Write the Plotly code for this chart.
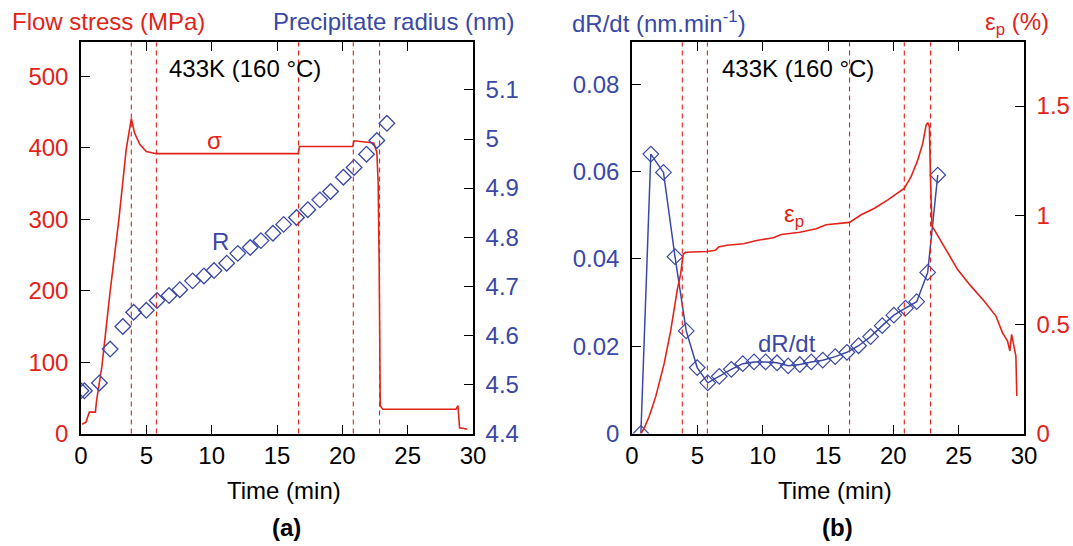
import plotly.graph_objects as go

# ---------------- data ----------------
# Panel (a): flow stress (MPa) vs time (min)
sigma_t = [0.08, 0.38, 0.64, 1.1, 1.2, 1.6, 2.23, 2.9, 3.46, 3.85, 4.1, 4.5, 5.0, 5.77, 10.0,
           16.62, 16.72, 20.8, 20.9, 21.5, 22.4, 22.64, 22.74, 22.82, 22.9, 23.1, 28.7, 28.85,
           28.97, 29.3, 29.56]
sigma = [13, 16, 30, 30, 47, 94, 199, 300, 398, 441, 421, 405, 395, 392, 392,
         392, 402, 402, 410, 409, 407, 394, 352, 235, 39, 34, 34, 39,
         8, 7, 6]

# Panel (a): precipitate radius (nm)
R_t = [0.0, 0.26, 1.41, 2.23, 3.2, 4.03, 5.0, 5.82, 6.74, 7.56, 8.54, 9.41, 10.18, 11.15,
       12.0, 12.95, 13.77, 14.69, 15.51, 16.49, 17.36, 18.28, 19.1, 20.08, 20.9, 21.85,
       22.64, 23.41]
R = [4.487, 4.487, 4.503, 4.572, 4.618, 4.647, 4.651, 4.671, 4.681, 4.693, 4.711, 4.721,
     4.732, 4.747, 4.767, 4.779, 4.793, 4.808, 4.826, 4.840, 4.856, 4.876, 4.893, 4.922,
     4.942, 4.969, 4.997, 5.032]

# Panel (b): dR/dt (nm/min)
dR_t = [0.68, 1.44, 2.41, 3.29, 4.15, 4.99, 5.8, 6.68, 7.6, 8.48, 9.34, 10.23, 11.1, 11.95,
        12.84, 13.72, 14.6, 15.55, 16.45, 17.34, 18.26, 19.15, 20.04, 20.93, 21.79, 22.63, 23.4]
dR = [0.0, 0.064, 0.0598, 0.0405, 0.0235, 0.0151, 0.0116, 0.0131, 0.0147, 0.0160, 0.0164,
      0.0164, 0.0162, 0.0155, 0.0158, 0.0164, 0.0168, 0.0176, 0.0186, 0.0201, 0.0222,
      0.0247, 0.0271, 0.0287, 0.0302, 0.0369, 0.0592]

# Panel (b): plastic strain eps_p (%)
eps_t = [0.68, 0.94, 1.32, 1.82, 2.46, 2.96, 3.47, 3.72, 3.92, 4.1, 5.75, 6.38, 6.63, 7.27,
         8.53, 9.54, 10.81, 11.44, 12.84, 14.1, 14.86, 15.76, 16.65, 17.54, 18.56, 19.58,
         20.34, 20.85, 21.36, 21.87, 22.25, 22.51, 22.63, 22.76, 22.84, 22.96, 23.14, 24.03,
         24.92, 25.94, 26.96, 27.85, 28.36, 28.74, 28.92, 29.05, 29.2, 29.38, 29.45]
eps = [0.0, 0.026, 0.079, 0.17, 0.32, 0.47, 0.66, 0.73, 0.82, 0.83, 0.834, 0.839, 0.854, 0.862,
       0.869, 0.884, 0.897, 0.912, 0.922, 0.938, 0.956, 0.961, 0.967, 1.002, 1.032, 1.07,
       1.10, 1.124, 1.177, 1.253, 1.329, 1.413, 1.424, 1.405, 1.177, 0.949, 0.933, 0.842,
       0.751, 0.675, 0.606, 0.538, 0.461, 0.423, 0.378, 0.454, 0.40, 0.355, 0.172]

# Transition times marked by dashed lines (min)
transition_times = [3.85, 5.77, 16.65, 20.84, 22.85]

x_ticks = [0, 5, 10, 15, 20, 25, 30]
sigma_ticks = [0, 100, 200, 300, 400, 500]
R_ticks = [4.4, 4.5, 4.6, 4.7, 4.8, 4.9, 5.0, 5.1]
R_ticklabels = ["4.4", "4.5", "4.6", "4.7", "4.8", "4.9", "5", "5.1"]
dR_ticks = [0, 0.02, 0.04, 0.06, 0.08]
dR_ticklabels = ["0", "0.02", "0.04", "0.06", "0.08"]
eps_ticks = [0, 0.5, 1, 1.5]
eps_ticklabels = ["0", "0.5", "1", "1.5"]

# ---------------- style ----------------
RED = "#e2231a"
BLUE = "#3a48a6"
FONT = "Liberation Sans"
FS = 24

W, H = 1073, 546
def px(x):
    return x / W
def py(y):
    return (H - y) / H

dom_y = [py(433.5), py(42.3)]
dom_a = [px(81), px(473)]
dom_b = [px(632), px(1024)]

fig = go.Figure()

fig.add_trace(go.Scatter(x=sigma_t, y=sigma, mode="lines", line=dict(color=RED, width=1.6),
                         xaxis="x", yaxis="y", showlegend=False))
fig.add_trace(go.Scatter(x=R_t, y=R, mode="markers",
                         marker=dict(symbol="diamond-open", size=12, color=BLUE,
                                     line=dict(color=BLUE, width=1.3)),
                         xaxis="x", yaxis="y2", showlegend=False))
fig.add_trace(go.Scatter(x=eps_t, y=eps, mode="lines", line=dict(color=RED, width=1.6),
                         xaxis="x2", yaxis="y4", showlegend=False))
fig.add_trace(go.Scatter(x=dR_t, y=dR, mode="lines+markers",
                         line=dict(color=BLUE, width=1.5),
                         marker=dict(symbol="diamond-open", size=12, color=BLUE,
                                     line=dict(color=BLUE, width=1.2)),
                         xaxis="x2", yaxis="y3", showlegend=False))

axis_common = dict(showline=True, linecolor="black", linewidth=1.5, ticks="inside",
                   ticklen=9, tickwidth=1.3, tickcolor="black", showgrid=False,
                   zeroline=False, automargin=False, ticklabelstandoff=6)

xcommon = dict(axis_common, range=[0, 30], tickvals=x_ticks, mirror="ticks",
               ticklabelstandoff=0,
               tickfont=dict(family=FONT, size=FS, color="black"))

fig.update_layout(
    width=W, height=H,
    margin=dict(l=0, r=0, t=0, b=0),
    paper_bgcolor="white", plot_bgcolor="white",
    xaxis=dict(xcommon, domain=dom_a, anchor="y"),
    xaxis2=dict(xcommon, domain=dom_b, anchor="y3"),
    yaxis=dict(axis_common, domain=dom_y, range=[0, 548], tickvals=sigma_ticks,
               anchor="x", tickfont=dict(family=FONT, size=FS, color=RED)),
    yaxis2=dict(axis_common, range=[4.4, 5.197], tickvals=R_ticks, ticktext=R_ticklabels,
                overlaying="y", side="right", anchor="x",
                tickfont=dict(family=FONT, size=FS, color=BLUE)),
    yaxis3=dict(axis_common, domain=dom_y, range=[0, 0.0896], tickvals=dR_ticks,
                ticktext=dR_ticklabels, anchor="x2",
                tickfont=dict(family=FONT, size=FS, color=BLUE)),
    yaxis4=dict(axis_common, range=[0, 1.792], tickvals=eps_ticks, ticktext=eps_ticklabels,
                overlaying="y3", side="right", anchor="x2",
                tickfont=dict(family=FONT, size=FS, color=RED)),
)

shapes = []
for xr, yr in (("x", "y domain"), ("x2", "y3 domain")):
    for t in transition_times:
        shapes.append(dict(type="line", xref=xr, yref=yr, x0=t, x1=t, y0=0, y1=1,
                           line=dict(color=RED, width=1.1, dash="5px,4px")))
fig.update_layout(shapes=shapes)

ann = []
def txt(text, x, y, color, xref="paper", yref="paper", xanchor="center", yanchor="middle",
        size=FS, bold=False):
    ann.append(dict(text=("<b>%s</b>" % text) if bold else text, x=x, y=y, xref=xref,
                    yref=yref, xanchor=xanchor, yanchor=yanchor, showarrow=False,
                    font=dict(family=FONT, size=size, color=color)))

# header titles
txt("Flow stress (MPa)", px(10), py(22), RED, xanchor="left")
txt("Precipitate radius (nm)", px(516), py(22), BLUE, xanchor="right")
txt("dR/dt (nm.min<sup>-1</sup>)", px(570), py(22), BLUE, xanchor="left")
txt("ε<sub>p</sub> (%)", px(1051), py(24), RED, xanchor="right")

# axis titles and panel labels
txt("Time (min)", px(284), py(490), "black")
txt("Time (min)", px(835), py(490), "black")
txt("(a)", px(286), py(527), "black", bold=True)
txt("(b)", px(837), py(527), "black", bold=True)

# in-plot labels
txt("433K (160 °C)", 12.55, 512, "black", xref="x", yref="y")
txt("σ", 10.25, 411, RED, xref="x", yref="y")
txt("R", 10.7, 269, BLUE, xref="x", yref="y")
txt("433K (160 °C)", 12.7, 0.0837, "black", xref="x2", yref="y3")
txt("ε<sub>p</sub>", 12.4, 1.0, RED, xref="x2", yref="y4")
txt("dR/dt", 11.84, 0.0207, BLUE, xref="x2", yref="y3")

fig.update_layout(annotations=ann)

fig.write_html("out.html",
               config={"displayModeBar": False},
               post_script="document.body.style.margin='0px';document.body.style.overflow='hidden';")
